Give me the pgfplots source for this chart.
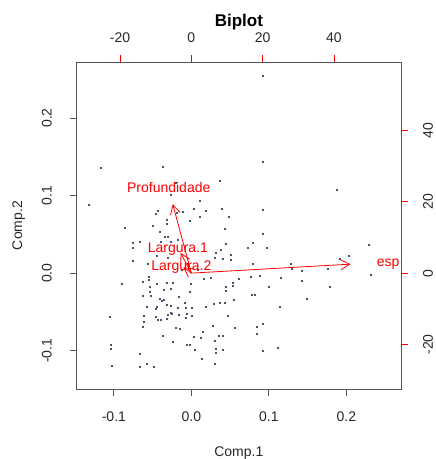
\documentclass[border=0pt]{standalone}
\usepackage{fontspec}
\setmainfont{Liberation Sans}
\usepackage{pgfplots}
\pgfplotsset{compat=1.18}
\usetikzlibrary{arrows.meta}
\definecolor{boxgray}{RGB}{85,85,85}
\definecolor{txtgray}{RGB}{40,40,40}
\definecolor{ptcol}{RGB}{75,85,105}
\newcommand{\fs}{\fontsize{14}{17}\selectfont}
\begin{document}
\begin{tikzpicture}
\useasboundingbox (-76.7pt,-70pt) rectangle (359.3pt,389pt);
\begin{axis}[
  at={(0pt,0pt)}, anchor=south west,
  scale only axis, width=324.3pt, height=327pt,
  xmin=-0.148, xmax=0.2705, ymin=-0.1495, ymax=0.2723,
  axis line style={boxgray, line width=0.8pt},
  xtick={-0.1,0,0.1,0.2}, ytick={-0.1,0,0.1,0.2},
  xticklabels={-0.1,0.0,0.1,0.2}, yticklabels={-0.1,0.0,0.1,0.2},
  xtick pos=left, ytick pos=left,
  tick align=outside, major tick length=7pt,
  tick style={boxgray, line width=0.8pt},
  ticklabel style={font=\fs, text=txtgray},
  xticklabel style={anchor=center, yshift=-21pt},
  yticklabel style={rotate=90, anchor=center, yshift=23pt},
  xlabel={Comp.1}, ylabel={Comp.2},
  label style={font=\fs, text=txtgray},
  xlabel style={at={(axis description cs:0.5,0)}, anchor=center, yshift=-64pt},
  ylabel style={at={(axis description cs:0,0.5)}, anchor=center, yshift=58pt},
  clip=false,
]
\addplot[only marks, mark=square*, mark size=0.5pt, color=ptcol] table[row sep=\\] {
x y\\
0.0916 0.254\\ 0.0916 0.144\\ -0.1174 0.136\\ -0.0365 0.137\\ 0.187 0.107\\
-0.133 0.0884\\ 0.0361 0.119\\ -0.0206 0.116\\ -0.0271 0.101\\ 0.0103 0.0932\\
0.0916 0.0816\\ -0.0435 0.080\\ -0.0465 0.076\\ -0.0319 0.069\\ -0.0323 0.064\\
-0.0185 0.078\\ -0.0107 0.079\\ 0.0034 0.083\\ 0.0185 0.080\\ 0.0108 0.073\\
0.0387 0.083\\ 0.0482 0.073\\ -0.0022 0.068\\ -0.086 0.058\\ -0.0503 0.061\\
-0.0409 0.053\\ -0.034 0.047\\ -0.0306 0.047\\ 0.043 0.057\\ 0.0916 0.0507\\
-0.0761 0.039\\ -0.0761 0.033\\ -0.0671 0.041\\ -0.04 0.0407\\ -0.0271 0.0407\\
-0.0177 0.043\\ 0.0447 0.0378\\ 0.0796 0.0395\\ 0.0731 0.033\\ 0.0976 0.033\\
0.0383 0.0305\\ 0.0318 0.0266\\ 0.0512 0.0232\\ 0.0512 0.0172\\ 0.0404 0.018\\
0.0305 0.0197\\ -0.0752 0.0155\\ -0.0564 0.0124\\ 0.0791 0.0124\\ 0.1277 0.0124\\
0.1914 0.018\\ 0.2034 0.0223\\ 0.2288 0.036\\ 0.231 -0.0022\\ 0.129 0.0052\\
0.142 0.0034\\ 0.176 0.0052\\ 0.0882 -0.0035\\ 0.0761 -0.0048\\ 0.0606 -0.0073\\
0.1148 -0.0057\\ 0.142 -0.0103\\ 0.1785 -0.0172\\ 0.0994 -0.0177\\ 0.0164 -0.0073\\
0.0254 -0.0065\\ 0.0538 -0.013\\ 0.053 -0.0168\\ 0.0439 -0.0172\\ 0.0443 -0.0228\\
-0.055 -0.0044\\ -0.055 -0.0086\\ -0.0623 -0.0116\\ -0.0903 -0.0142\\ -0.0542 -0.0172\\
-0.0542 -0.0237\\ -0.0443 -0.0138\\ -0.0357 -0.0215\\ -0.0271 -0.0206\\ -0.0323 -0.013\\
-0.0245 -0.013\\ -0.0013 -0.0138\\ -0.0017 -0.0245\\ -0.0623 -0.0293\\ -0.0529 -0.0293\\
-0.0413 -0.0335\\ -0.0357 -0.0344\\ -0.0164 -0.0301\\ -0.009 -0.0379\\ -0.0073 -0.0447\\
0.0009 -0.0447\\ -0.0177 -0.0451\\ 0.0185 -0.0434\\ 0.0288 -0.04\\ 0.0365 -0.0379\\
0.0434 -0.0387\\ 0.055 -0.034\\ 0.078 -0.028\\ 0.0817 -0.028\\ 0.1135 -0.0438\\
0.149 -0.0327\\ -0.0572 -0.0438\\ -0.0443 -0.0438\\ -0.0455 -0.0464\\ -0.0383 -0.0353\\
-0.0323 -0.0412\\ -0.0262 -0.0421\\ -0.0271 -0.0508\\ -0.0615 -0.055\\ -0.0615 -0.0623\\
-0.0623 -0.0688\\ -0.0465 -0.0567\\ -0.043 -0.0601\\ -0.04 -0.0601\\ -0.0323 -0.0593\\
-0.0306 -0.0541\\ -0.0249 -0.0524\\ -0.0159 -0.0537\\ -0.0077 -0.058\\ -0.0065 -0.0524\\
0.0009 -0.055\\ -0.1058 -0.0567\\ 0.0468 -0.055\\ -0.0197 -0.0709\\ -0.0155 -0.0714\\
0.028 -0.0679\\ 0.0564 -0.0705\\ 0.0916 -0.0657\\ 0.0839 -0.0688\\ 0.0848 -0.0782\\
-0.0365 -0.0804\\ 0.003 -0.0825\\ 0.0116 -0.083\\ 0.0146 -0.0753\\ 0.0348 -0.0808\\
0.0404 -0.0808\\ 0.0301 -0.0872\\ -0.0241 -0.0885\\ -0.0056 -0.0924\\ -0.0017 -0.0924\\
0.0318 -0.0971\\ 0.04 -0.0988\\ 0.0318 -0.1023\\ 0.0043 -0.0988\\ 0.0916 -0.1001\\
0.1114 -0.0967\\ -0.1041 -0.0924\\ -0.1041 -0.098\\ -0.0671 -0.1036\\ 0.0133 -0.1108\\
0.0301 -0.1165\\ -0.1023 -0.1195\\ -0.0671 -0.1211\\ -0.0581 -0.1173\\ -0.0486 -0.1207\\
-0.012 0.005\\ -0.005 0.012\\ -0.03 0.02\\ -0.045 0.022\\ 0.008 0.004\\
};
\end{axis}
\begin{axis}[
  at={(0pt,0pt)}, anchor=south west,
  scale only axis, width=324.3pt, height=327pt,
  xmin=-32.17, xmax=58.81, ymin=-32.5, ymax=59.22,
  axis line style={draw=none},
  xtick={-20,0,20,40}, ytick={-20,0,20,40},
  xticklabels={-20,0,20,40}, yticklabels={-20,0,20,40},
  xtick pos=right, ytick pos=right,
  xticklabel pos=right, yticklabel pos=right,
  tick align=outside, major tick length=7pt,
  tick style={red, line width=0.8pt},
  ticklabel style={font=\fs, text=txtgray},
  xticklabel style={anchor=center, yshift=17pt},
  yticklabel style={rotate=90, anchor=center, yshift=-20pt},
  title={Biplot},
  title style={font=\bfseries\fontsize{17}{20}\selectfont, at={(axis description cs:0.5,1)}, anchor=center, yshift=34pt},
  clip=false,
]
\addplot[red, line width=0.8pt, -{Straight Barb[length=9pt,width=10pt]}] coordinates {(0,0) (44.65,2.52)};
\addplot[red, line width=0.8pt, -{Straight Barb[length=9pt,width=10pt]}] coordinates {(0,0) (-5.22,19.33)};
\addplot[red, line width=0.8pt, -{Straight Barb[length=9pt,width=10pt]}] coordinates {(0,0) (-3.03,5.67)};
\addplot[red, line width=0.8pt, -{Straight Barb[length=9pt,width=10pt]}] coordinates {(0,0) (-2.25,1.63)};
\node[text=red, font=\fs, anchor=base, inner sep=0pt] at (axis cs:55.2,1.77) {esp};
\node[text=red, font=\fs, anchor=base, inner sep=0pt] at (axis cs:-6.35,22.6) {Profundidade};
\node[text=red, font=\fs, anchor=base, inner sep=0pt] at (axis cs:-3.79,5.69) {Largura.1};
\node[text=red, font=\fs, anchor=base, inner sep=0pt] at (axis cs:-2.81,0.64) {Largura.2};
\end{axis}
\end{tikzpicture}
\end{document}
